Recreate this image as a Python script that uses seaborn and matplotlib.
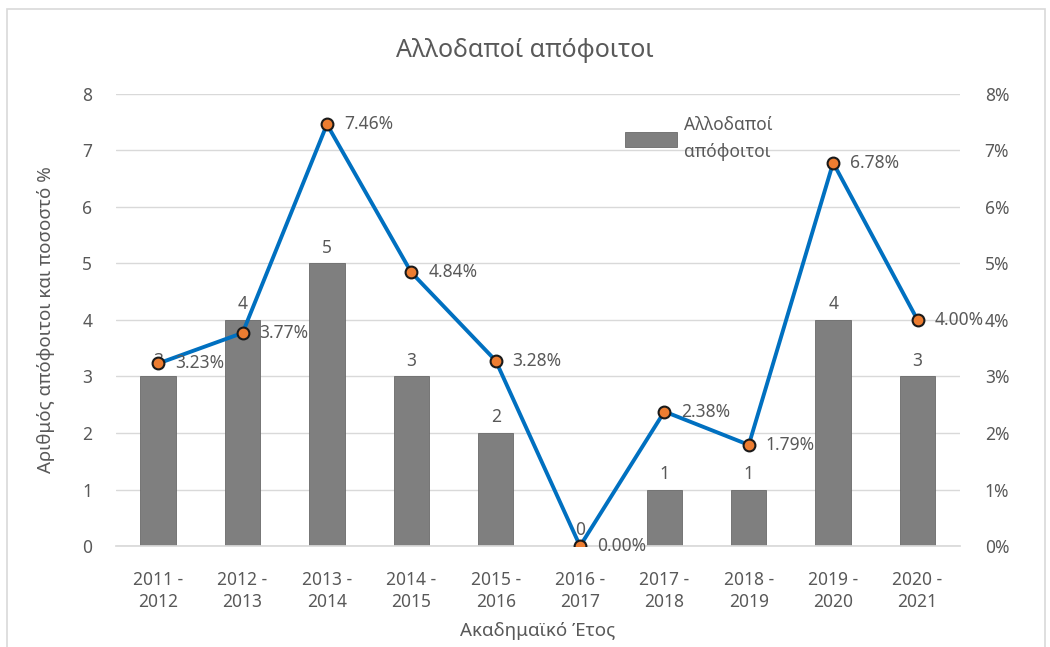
import matplotlib
matplotlib.use("Agg")
import matplotlib.pyplot as plt
import seaborn as sns
import pandas as pd
import numpy as np
from matplotlib.ticker import FuncFormatter
from matplotlib.patches import Rectangle

years = ["2011 -\n2012", "2012 -\n2013", "2013 -\n2014", "2014 -\n2015", "2015 -\n2016",
         "2016 -\n2017", "2017 -\n2018", "2018 -\n2019", "2019 -\n2020", "2020 -\n2021"]
graduates = [3, 4, 5, 3, 2, 0, 1, 1, 4, 3]
percent = [3.23, 3.77, 7.46, 4.84, 3.28, 0.00, 2.38, 1.79, 6.78, 4.00]

sns.set_theme(style="white")
plt.rcParams['font.family'] = ['Noto Sans', 'DejaVu Sans']
txt = "#595959"
fs = 12.5

df = pd.DataFrame({"year": years, "grad": graduates, "pct": percent})

fig = plt.figure(figsize=(10.5, 6.47), dpi=100)
ax = fig.add_axes([0.1105, 0.156, 0.8035, 0.699])

sns.barplot(data=df, x="year", y="grad", color="#7f7f7f", saturation=1, width=0.42,
            ax=ax, label="Αλλοδαποί\nαπόφοιτοι", edgecolor="#6a6a6a", linewidth=0.6, zorder=2)
ax.set_ylim(0, 8)
ax.set_xlim(-0.5, 9.5)
ax.set_yticks(range(0, 9))
ax.yaxis.grid(True, color="#d9d9d9", linewidth=1, zorder=0)
ax.set_axisbelow(True)
for s in ["top", "right", "left"]:
    ax.spines[s].set_visible(False)
ax.spines["bottom"].set_color("#d9d9d9")
ax.tick_params(axis="both", colors=txt, labelsize=fs, length=0)
ax.tick_params(axis="x", pad=18)
ax.tick_params(axis="y", pad=17)
for lab in ax.get_xticklabels():
    lab.set_linespacing(1.3)
ax.set_xlabel("Ακαδημαϊκό Έτος", color=txt, fontsize=13.5, labelpad=8)
ax.set_ylabel("Αριθμός απόφοιτοι και ποσοστό %", color=txt, fontsize=13.5, labelpad=20)

for i, v in enumerate(graduates):
    ax.text(i, v + 0.12, str(v), ha="center", va="bottom", color=txt, fontsize=fs, zorder=5)

ax2 = ax.twinx()
sns.lineplot(x=np.arange(len(years)), y=[p / 100 for p in percent], ax=ax2, color="#0070C0",
             linewidth=2.8, marker="o", markersize=8.5, markerfacecolor="#ED7D31",
             markeredgecolor="#1a1a1a", markeredgewidth=1.5, zorder=4)
ax2.set_ylim(0, 0.08)
ax2.set_yticks(np.arange(0, 0.081, 0.01))
ax2.yaxis.set_major_formatter(FuncFormatter(lambda v, p: f"{v*100:.0f}%"))
for s in ["top", "right", "left", "bottom"]:
    ax2.spines[s].set_visible(False)
ax2.tick_params(axis="y", colors=txt, labelsize=fs, length=0, pad=18)
for i, p in enumerate(percent):
    ax2.text(i + 0.2, p / 100, f"{p:.2f}%", ha="left", va="center", color=txt, fontsize=fs, zorder=6)

leg = ax.legend(loc="upper left", bbox_to_anchor=(0.585, 0.985), frameon=False, fontsize=fs,
                handlelength=3.0, handleheight=0.9, handletextpad=0.4, labelcolor=txt)
for t in leg.get_texts():
    t.set_linespacing(1.6)

fig.text(0.5, 0.922, "Αλλοδαποί απόφοιτοι", ha="center", va="center", color=txt, fontsize=18)
fig.patches.append(Rectangle((0.0065, -0.01), 0.989, 0.996, transform=fig.transFigure,
                             fill=False, edgecolor="#d9d9d9", linewidth=1.2))

fig.savefig("out.png", dpi=100)
